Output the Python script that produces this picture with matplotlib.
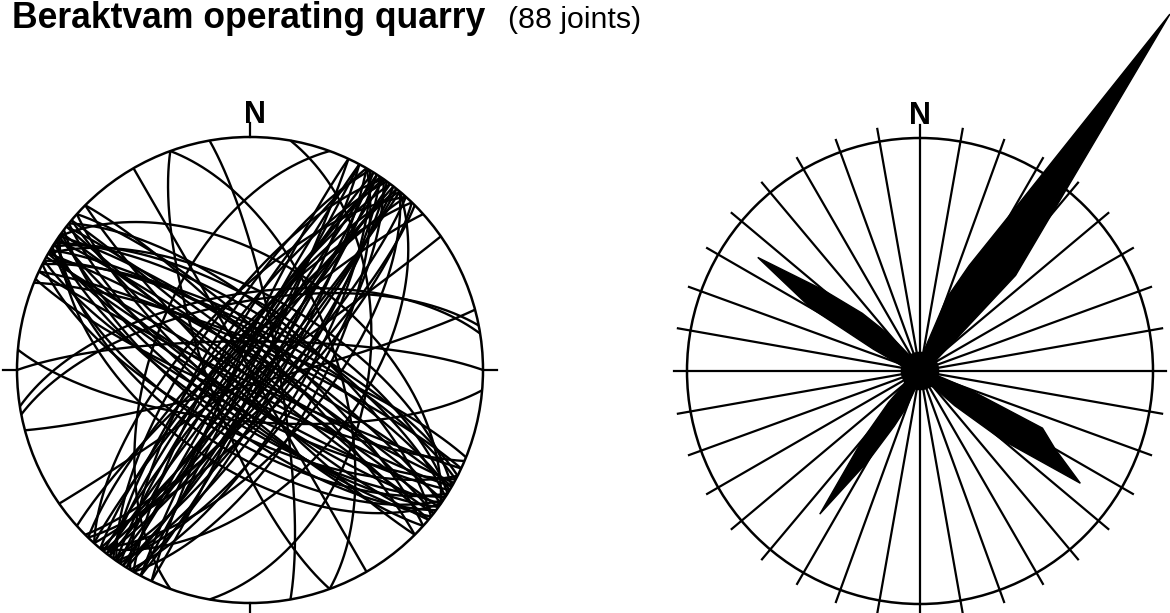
import numpy as np
import matplotlib
matplotlib.use("Agg")
import matplotlib.pyplot as plt
from matplotlib.patches import Circle, Polygon

plt.rcParams['font.family'] = ['Liberation Sans', 'DejaVu Sans']

# ---------------- data ----------------
title_main = "Beraktvam operating quarry"
title_sub = "(88 joints)"
north_label = "N"

# joints: strike (right-hand rule, degrees) and dip (degrees)
set_a_strike = [32, 35, 38, 30, 36, 40, 28, 34, 42, 37, 33, 25, 44, 31, 39,
                212, 215, 218, 210, 214, 220, 208, 216, 222, 213, 217, 211, 219, 205, 224,
                35, 215, 30, 40, 222, 28, 45, 228]
set_a_dip = [85, 88, 82, 80, 78, 86, 84, 76, 80, 89, 83, 87, 75, 72, 84,
             86, 82, 88, 79, 84, 80, 86, 76, 83, 89, 81, 74, 86, 85, 78,
             70, 70, 66, 64, 68, 90, 78, 82]

set_b_strike = [300, 305, 310, 298, 303, 308, 295, 312, 302, 306, 297, 315, 300, 309, 304, 292, 301,
                120, 125, 128, 118, 123, 130, 115, 127, 122, 132, 119, 126, 121, 135, 117, 124, 129, 113]
set_b_dip = [85, 80, 88, 76, 72, 84, 82, 78, 68, 90, 74, 82, 64, 70, 86, 80, 78,
             84, 80, 88, 76, 72, 82, 86, 70, 66, 78, 88, 74, 80, 84, 68, 62, 76, 80]

other_strike = [150, 55, 259, 261, 10, 40, 200, 305, 125, 350, 75, 160, 270, 340, 95]
other_dip = [90, 88, 66, 63, 48, 52, 55, 52, 56, 80, 85, 75, 80, 60, 72]

# rose diagram: azimuth of bin centre (deg) and relative length
rose_az = list(range(0, 360, 5))
rose_len = [0.08, 0.08, 0.08, 0.13, 0.33, 0.50, 0.78, 1.87, 0.88, 0.58, 0.16, 0.09,   # 0-55
            0.08, 0.08, 0.08, 0.08, 0.08, 0.08, 0.08, 0.08, 0.08, 0.08, 0.21, 0.58,   # 60-115
            0.67, 0.84, 0.46, 0.21, 0.09, 0.08, 0.08, 0.08, 0.08, 0.08, 0.08, 0.08,   # 120-175
            0.08, 0.08, 0.08, 0.08, 0.16, 0.26, 0.45, 0.75, 0.38, 0.19, 0.09, 0.08,   # 180-235
            0.08, 0.08, 0.08, 0.08, 0.08, 0.08, 0.08, 0.08, 0.08, 0.08, 0.11, 0.22,   # 240-295
            0.54, 0.85, 0.54, 0.35, 0.20, 0.09, 0.08, 0.08, 0.08, 0.08, 0.08, 0.08]   # 300-355
rose_spokes = list(range(0, 360, 10))

# ---------------- helpers ----------------
def great_circle(strike, dip, n=241):
    s = np.radians(strike)
    d = np.radians(dip)
    t = np.linspace(0, np.pi, n)
    sv = np.array([np.sin(s), np.cos(s), 0.0])
    dd = s + np.pi / 2
    dv = np.array([np.sin(dd) * np.cos(d), np.cos(dd) * np.cos(d), -np.sin(d)])
    v = np.outer(np.cos(t), sv) + np.outer(np.sin(t), dv)
    plunge = np.arcsin(np.clip(-v[:, 2], -1, 1))
    trend = np.arctan2(v[:, 0], v[:, 1])
    r = np.sqrt(2) * np.sin((np.pi / 2 - plunge) / 2)
    return r * np.sin(trend), r * np.cos(trend)

W, H, DPI = 1170, 613, 100
R = 233.0  # px
fig = plt.figure(figsize=(W / DPI, H / DPI), dpi=DPI)

def make_ax(cx, cy, lim=1.1):
    size = 2 * lim * R
    ax = fig.add_axes([(cx - size / 2) / W, ((H - cy) - size / 2) / H, size / W, size / H])
    ax.set_xlim(-lim, lim)
    ax.set_ylim(-lim, lim)
    ax.set_aspect('equal')
    ax.axis('off')
    return ax

lw = 1.7

# ---------------- stereonet ----------------
ax1 = make_ax(250, 370)
strikes = set_a_strike + set_b_strike + other_strike
dips = set_a_dip + set_b_dip + other_dip
for st, dp in zip(strikes, dips):
    x, y = great_circle(st, dp)
    ax1.plot(x, y, color='black', lw=lw, solid_capstyle='butt')
ax1.add_patch(Circle((0, 0), 1.0, fill=False, ec='black', lw=1.8))
for (x0, y0, x1, y1) in [(0, 1, 0, 1.06), (1, 0, 1.06, 0), (0, -1, 0, -1.06), (-1, 0, -1.06, 0)]:
    ax1.plot([x0, x1], [y0, y1], color='black', lw=1.6, clip_on=False)
ax1.text(0.02, 1.058, north_label, ha='center', va='baseline', fontsize=22, fontweight='bold')

# ---------------- rose ----------------
ax2 = make_ax(920, 371)
for a in rose_spokes:
    ar = np.radians(a)
    ax2.plot([0, 1.055 * np.sin(ar)], [0, 1.055 * np.cos(ar)], color='black', lw=1.6,
             clip_on=False, zorder=2)
ax2.add_patch(Circle((0, 0), 1.0, fill=False, ec='black', lw=1.8, zorder=2))
az = np.radians(np.array(rose_az, dtype=float))
rl = np.array(rose_len)
pts = np.column_stack([rl * np.sin(az), rl * np.cos(az)])
ax2.add_patch(Polygon(pts, closed=True, fc='black', ec='black', lw=1.0, zorder=3, clip_on=False))
ax2.text(0.0, 1.058, north_label, ha='center', va='baseline', fontsize=22, fontweight='bold')

# ---------------- title ----------------
fig.text(12 / W, 1 - 28 / H, title_main, ha='left', va='baseline', fontsize=25.6, fontweight='bold')
fig.text(508 / W, 1 - 28 / H, title_sub, ha='left', va='baseline', fontsize=21.8)

fig.savefig('out.png', dpi=DPI, facecolor='white')
